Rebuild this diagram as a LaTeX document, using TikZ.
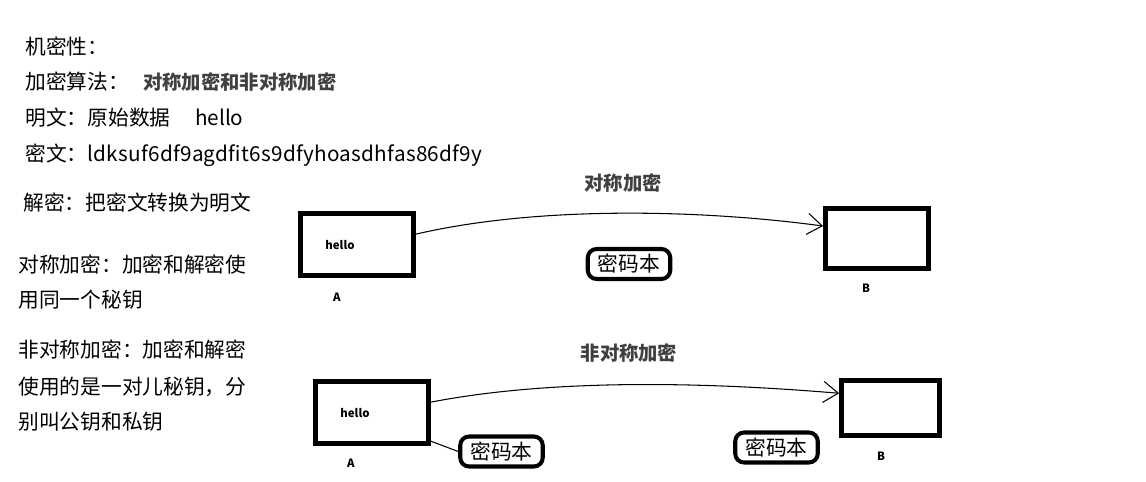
\documentclass[tikz,border=0pt]{standalone}
\usepackage{fontspec}
\setmainfont{Noto Sans CJK SC}
\usetikzlibrary{arrows.meta}

\begin{document}
\begin{tikzpicture}[x=0.02cm, y=-0.02cm,
		every node/.style={inner sep=0pt, font=\fontsize{11.8}{14}\selectfont},
		line/.style={anchor=west},
		heading/.style={font=\fontsize{11}{13}\selectfont\bfseries, text=black!75},
		tag/.style={font=\fontsize{6.5}{7}\selectfont\bfseries},
		party/.style 2 args={draw, line width=2.7pt, minimum width=#1, minimum height=#2},
		codebook/.style={draw, line width=2.3pt, rounded corners=5pt, minimum width=1.65cm, minimum height=0.6cm},
		send/.style={-{Straight Barb[length=8.5pt,width=12pt]}, line width=0.6pt}]
	\useasboundingbox (0,0) rectangle (1146,482);
	
		\node[line] (l1) at (25,47) {机密性：};
		\node[line] (l2) at (25,82) {加密算法：\hspace{8pt}{\fontsize{11}{13}\selectfont\bfseries\color{black!75}对称加密和非对称加密}};
		\node[line] (l3) at (25,118) {明文：原始数据\hspace{14pt}hello};
		\node[line] (l4) at (25,155) {密文：{\addfontfeature{LetterSpace=1.3}ldksuf6df9agdfit6s9dfyhoasdhfas86df9y}};
		\node[line] (l5) at (23,203) {解密：把密文转换为明文};
		\node[line] (l6) at (18,265) {对称加密：加密和解密使};
		\node[line] (l7) at (18,300) {用同一个秘钥};
		\node[line] (l8) at (18,350) {非对称加密：加密和解密};
		\node[line] (l9) at (18,387) {使用的是一对儿秘钥，分};
		\node[line] (l10) at (18,422) {别叫公钥和私钥};
		
		\node[heading] (sym) at (623,183) {对称加密};
		\node[party={2.27cm}{1.24cm}] (A1) at (357,244.5) {};
		\node[tag] (hello1) at (340,245) {hello};
		\node[tag] (nameA1) at (337,297) {A};
		\node[party={2.06cm}{1.2cm}] (B1) at (877,238.5) {};
		\node[tag] (nameB1) at (866,288) {B};
		\node[codebook] (key1) at (629,264) {密码本};
		\draw[send] (A1.10) .. controls +(130,-30) and +(-110,-15) .. (B1.167);
		
		\node[heading] (asym) at (629,353) {非对称加密};
		\node[party={2.26cm}{1.24cm}] (A2) at (372,412.5) {};
		\node[tag] (hello2) at (355,413) {hello};
		\node[tag] (nameA2) at (351,463) {A};
		\node[party={1.96cm}{1.1cm}] (B2) at (890.5,408) {};
		\node[tag] (nameB2) at (881,456) {B};
		\node[codebook] (key2) at (501.5,451.5) {密码本};
		\node[codebook] (key3) at (776.5,447.5) {密码本};
		\draw[send] (A2.10) .. controls +(130,-25) and +(-120,-10) .. (B2.164);
		\draw[line width=0.6pt] (A2.334) -- (key2.west);
	\end{tikzpicture}
\end{document}
